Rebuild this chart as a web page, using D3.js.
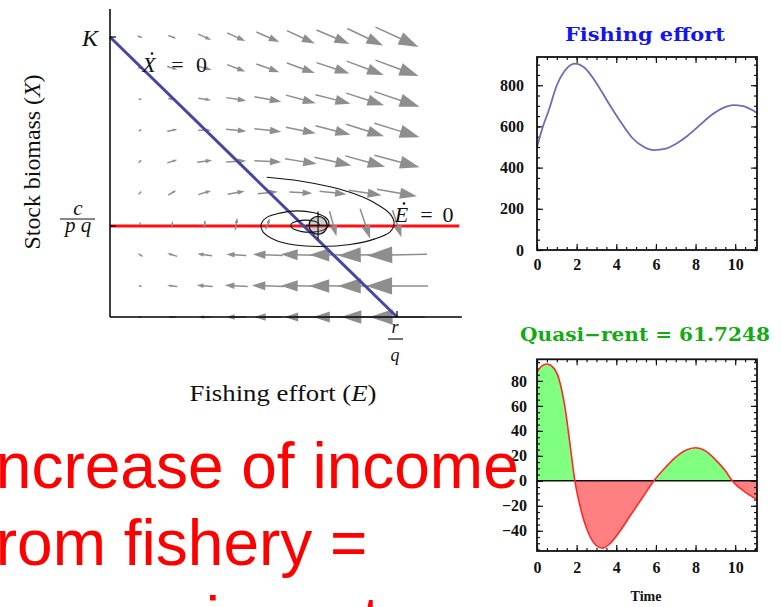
<!DOCTYPE html>
<html><head><meta charset="utf-8">
<script src="https://cdn.jsdelivr.net/npm/d3@7"></script>
<style>body{margin:0;background:#fff}svg{display:block}</style>
</head><body>
<script>
// ---------------- DATA ----------------
// Phase plane, normalised units: effort E / (r/q), biomass X / K
const gridE = [0.105, 0.217, 0.33, 0.44, 0.55, 0.665, 0.777, 0.889, 1.0];
const gridX = [1, 0.889, 0.778, 0.667, 0.556, 0.444, 0.333, 0.222, 0.111, 0];
// direction field components (percent of axis unit), rows follow gridX, cols follow gridE
const fieldDE = [
  [1.7, 2.8, 4.5, 6.3, 8.0, 9.7, 11.5, 12.5, 15.0],
  [1.4, 3.5, 4.9, 6.3, 8.0, 9.7, 11.5, 12.9, 15.0],
  [1.0, 2.8, 4.5, 7.0, 9.4, 10.4, 12.2, 13.2, 15.7],
  [1.0, 3.5, 4.5, 7.0, 9.4, 10.4, 12.2, 13.2, 15.7],
  [1.0, 3.5, 5.2, 7.0, 9.4, 11.1, 12.9, 13.9, 15.7],
  [1.0, 2.8, 4.5, 5.9, 7.0, 8.0, 9.4, 11.5, 13.9],
  [0.0, 0.2, 0.3, 0.7, 1.4, 0.2, 2.4, 3.5, 3.1],
  [-1.7, -3.5, -5.2, -7.0, -10.4, -13.9, -16.4, -19.1, -20.9],
  [-1.0, -3.5, -5.6, -8.0, -11.1, -13.9, -16.7, -19.1, -21.6],
  [-1.0, -2.8, -4.5, -7.0, -9.4, -11.5, -13.9, -16.7, -19.1]
];
const fieldDX = [
  [-0.7, -1.1, -2.1, -2.9, -3.6, -4.6, -5.0, -6.1, -7.1],
  [-0.4, -1.1, -1.4, -2.5, -2.9, -3.6, -3.9, -5.0, -5.7],
  [0.0, -0.5, -0.7, -1.1, -1.8, -2.9, -3.2, -4.3, -5.4],
  [0.7, 0.7, 0.0, -0.7, -1.1, -2.1, -3.2, -4.3, -5.0],
  [1.1, 1.1, 0.7, 0.4, -0.4, -1.8, -2.9, -3.9, -4.3],
  [1.1, 1.8, 1.4, 1.1, 0.7, -0.4, -1.1, -1.8, -2.5],
  [0.7, 1.8, 2.9, 4.3, 3.9, -0.4, -8.9, -10.7, -9.6],
  [1.1, 1.1, 0.7, 0.4, 0.4, 0.4, 0.0, -0.4, -0.4],
  [0.4, 0.4, 0.4, 0.4, 0.4, 0.2, 0.0, 0.0, 0.0],
  [0, 0, 0, 0, 0, 0, 0, 0, 0]
];
const xDotZero = [[0, 1], [1, 0]];          // (E, X) end points of the X-dot = 0 isocline
const cOverPq = 0.325;                       // E-dot = 0 isocline level
const trajectory = [
  [0.546,0.499],[0.662,0.486],[0.767,0.465],[0.854,0.439],[0.923,0.407],[0.976,0.368],
  [0.990,0.332],[0.976,0.304],[0.923,0.279],[0.836,0.259],[0.732,0.252],[0.645,0.257],
  [0.575,0.275],[0.533,0.304],[0.526,0.329],[0.544,0.354],[0.592,0.371],[0.652,0.379],
  [0.707,0.373],[0.749,0.357],[0.763,0.336],[0.749,0.314],[0.714,0.304],[0.669,0.305],
  [0.634,0.318],[0.631,0.332],[0.655,0.343],[0.697,0.345],[0.725,0.336],[0.732,0.325]
];
const equilibrium = [0.725, 0.327];

// Time series
const effortT = [0,0.3,0.6,1.0,1.4,1.9,2.4,3.0,3.6,4.2,4.8,5.4,5.9,6.5,7.0,7.6,8.2,8.8,9.4,9.9,10.4,11.1];
const effortV = [500,600,680,800,870,905,885,810,715,625,545,500,485,492,515,555,605,655,690,703,698,665];
const rentT = [0,0.25,0.5,0.8,1.1,1.4,1.7,1.9,2.2,2.6,3.0,3.3,3.7,4.2,4.7,5.3,5.9,6.5,7.0,7.5,8.0,8.5,9.0,9.5,9.9,10.5,11.1];
const rentV = [87,92,93.5,91,82,60,25,1,-22,-42,-52,-54,-50,-40,-28,-14,0,11,19,24.5,26.5,24,17,8,-1,-9,-15];
const timeTicks = [0,2,4,6,8,10];
const effortTicks = [0,200,400,600,800];
const rentTicks = [-40,-20,0,20,40,60,80];
const effortTitle = "Fishing effort";
const rentTitle = "Quasi\u2212rent = 61.7248";
const overlayLines = ["Increase of income", "from fishery =", "economic rent"];

// ---------------- DRAW ----------------
const W = 782, H = 607;
const svg = d3.select("body").append("svg").attr("width", W).attr("height", H);

// ---- phase plane ----
const xE = d3.scaleLinear().domain([0, 1]).range([110, 397]);
const yX = d3.scaleLinear().domain([0, 1]).range([317, 37]);
const xEnd = 1.226, yEnd = 1.1;
const pp = svg.append("g");

// E-dot = 0 (red)
pp.append("line").attr("x1", xE(0)).attr("x2", xE(1.217)).attr("y1", yX(cOverPq)).attr("y2", yX(cOverPq))
  .attr("stroke", "#ff1010").attr("stroke-width", 3);

// arrows
const arrowCol = "#8e8e8e";
const ag = pp.append("g");
gridX.forEach((X, i) => {
  gridE.forEach((E, j) => {
    const cx = xE(E), cy = yX(X);
    const dx = xE(E + fieldDE[i][j] / 100) - cx;
    const dy = yX(X + fieldDX[i][j] / 100) - cy;
    const L = Math.hypot(dx, dy);
    if (L < 0.3) return;
    const ux = dx / L, uy = dy / L;
    const tx = cx - dx / 2, ty = cy - dy / 2, hx = cx + dx / 2, hy = cy + dy / 2;
    const hl = 0.42 * L, hw = 0.14 * L;
    const bx = hx - ux * hl, by = hy - uy * hl;
    ag.append("line").attr("x1", tx).attr("y1", ty).attr("x2", bx + ux * 1).attr("y2", by + uy * 1)
      .attr("stroke", arrowCol).attr("stroke-width", 1.5);
    ag.append("path").attr("d", `M${hx},${hy}L${bx - uy * hw},${by + ux * hw}L${bx + uy * hw},${by - ux * hw}Z`)
      .attr("fill", arrowCol);
  });
});

// X-dot = 0 (blue)
pp.append("line").attr("x1", xE(xDotZero[0][0])).attr("y1", yX(xDotZero[0][1]))
  .attr("x2", xE(xDotZero[1][0])).attr("y2", yX(xDotZero[1][1]))
  .attr("stroke", "#4646a6").attr("stroke-width", 3);

// trajectory
pp.append("path").datum(trajectory)
  .attr("d", d3.line().x(d => xE(d[0])).y(d => yX(d[1])).curve(d3.curveCatmullRom))
  .attr("fill", "none").attr("stroke", "#111").attr("stroke-width", 1.1);

// equilibrium marker
const ex = xE(equilibrium[0]), ey = yX(equilibrium[1]);
pp.append("circle").attr("cx", ex).attr("cy", ey).attr("r", 9).attr("fill", "rgba(120,120,120,0.35)")
  .attr("stroke", "#111").attr("stroke-width", 1.3);
pp.append("line").attr("x1", ex).attr("x2", ex).attr("y1", ey - 14).attr("y2", ey + 14).attr("stroke", "#111").attr("stroke-width", 1.2);
pp.append("line").attr("x1", ex - 12).attr("x2", ex + 12).attr("y1", ey).attr("y2", ey).attr("stroke", "#111").attr("stroke-width", 1.2);

// axes
pp.append("line").attr("x1", xE(0)).attr("x2", xE(0)).attr("y1", yX(0)).attr("y2", yX(yEnd)).attr("stroke", "#000").attr("stroke-width", 1.5);
pp.append("line").attr("x1", xE(0)).attr("x2", xE(xEnd)).attr("y1", yX(0)).attr("y2", yX(0)).attr("stroke", "#000").attr("stroke-width", 1.5);
[1, cOverPq].forEach(v => pp.append("line").attr("x1", xE(0)).attr("x2", xE(0) + 6).attr("y1", yX(v)).attr("y2", yX(v)).attr("stroke", "#000").attr("stroke-width", 1.2));
pp.append("line").attr("x1", xE(1)).attr("x2", xE(1)).attr("y1", yX(0)).attr("y2", yX(0) - 6).attr("stroke", "#000").attr("stroke-width", 1.2);

const serif = "'Liberation Serif','Times New Roman',serif";
function t(g, x, y, s, size, opts = {}) {
  const el = g.append("text").attr("x", x).attr("y", y).text(s)
    .attr("font-family", serif).attr("font-size", size).attr("fill", opts.fill || "#111")
    .attr("text-anchor", opts.anchor || "middle");
  if (opts.italic) el.attr("font-style", "italic");
  if (opts.bold) el.attr("font-weight", "bold");
  if (opts.len) el.attr("textLength", opts.len).attr("lengthAdjust", "spacingAndGlyphs");
  return el;
}
// tick labels of the phase plane
t(pp, 90, 46, "K", 24, { italic: true });
t(pp, 78, 215, "c", 21, { italic: true });
pp.append("line").attr("x1", 60).attr("x2", 95).attr("y1", 219).attr("y2", 219).attr("stroke", "#111").attr("stroke-width", 1.2);
t(pp, 78, 232, "p q", 21, { italic: true });
t(pp, xE(1) - 2, 333, "r", 18, { italic: true });
pp.append("line").attr("x1", xE(1) - 9).attr("x2", xE(1) + 6).attr("y1", 339).attr("y2", 339).attr("stroke", "#111").attr("stroke-width", 1.2);
t(pp, xE(1) - 2, 361, "q", 18, { italic: true });
// isocline labels
t(pp, 149, 72, "X", 22, { italic: true });
pp.append("circle").attr("cx", 152).attr("cy", 53.5).attr("r", 1.3).attr("fill", "#111");
t(pp, 177.5, 72, "=", 22);
t(pp, 201.5, 72, "0", 22);
t(pp, 401.5, 221.5, "E", 22, { italic: true });
pp.append("circle").attr("cx", 404).attr("cy", 203.5).attr("r", 1.3).attr("fill", "#111");
t(pp, 426.5, 221.5, "=", 22);
t(pp, 448, 221.5, "0", 22);
// axis titles
const xt = t(pp, 283, 401, "", 23, { len: 187 });
xt.append("tspan").text("Fishing effort (");
xt.append("tspan").attr("font-style", "italic").text("E");
xt.append("tspan").text(")");
const yt = pp.append("text").attr("transform", "translate(40,162) rotate(-90)")
  .attr("font-family", serif).attr("font-size", 24).attr("fill", "#111").attr("text-anchor", "middle")
  .attr("textLength", 175).attr("lengthAdjust", "spacingAndGlyphs");
yt.append("tspan").text("Stock biomass (");
yt.append("tspan").attr("font-style", "italic").text("X");
yt.append("tspan").text(")");

// ---- time-series panels ----
function panel(top, bottom, yDomain, yTicks, yMinor, labelPad, xPad) {
  const g = svg.append("g");
  const x = d3.scaleLinear().domain([0, 11.1]).range([537, 757]);
  const y = d3.scaleLinear().domain(yDomain).range([bottom, top]);
  const lab = sel => sel.selectAll("text").attr("font-family", serif).attr("font-weight", "bold")
    .attr("font-size", 16).attr("fill", "#111");
  const strip = sel => { sel.select(".domain").remove(); sel.selectAll("line").attr("stroke", "#111").attr("stroke-width", 1.2); };
  const xMinor = d3.range(0, 11.1, 0.5);
  g.append("g").attr("transform", `translate(0,${bottom})`).call(d3.axisBottom(x).tickValues(timeTicks).tickSize(-6).tickPadding(xPad)).call(strip).call(lab);
  g.append("g").attr("transform", `translate(0,${bottom})`).call(d3.axisBottom(x).tickValues(xMinor).tickSize(-3).tickFormat("")).call(strip);
  g.append("g").attr("transform", `translate(0,${top})`).call(d3.axisTop(x).tickValues(timeTicks).tickSize(-6).tickFormat("")).call(strip);
  g.append("g").attr("transform", `translate(0,${top})`).call(d3.axisTop(x).tickValues(xMinor).tickSize(-3).tickFormat("")).call(strip);
  g.append("g").attr("transform", `translate(537,0)`).call(d3.axisLeft(y).tickValues(yTicks).tickSize(-6).tickPadding(labelPad)).call(strip).call(lab);
  g.append("g").attr("transform", `translate(537,0)`).call(d3.axisLeft(y).tickValues(yMinor).tickSize(-3).tickFormat("")).call(strip);
  g.append("g").attr("transform", `translate(757,0)`).call(d3.axisRight(y).tickValues(yTicks).tickSize(-6).tickFormat("")).call(strip);
  g.append("g").attr("transform", `translate(757,0)`).call(d3.axisRight(y).tickValues(yMinor).tickSize(-3).tickFormat("")).call(strip);
  return { g, x, y };
}

// Fishing effort
const p1 = panel(57, 250, [0, 937], effortTicks, d3.range(0, 937, 50), 13, 9);
const effortData = effortT.map((d, i) => [d, effortV[i]]);
p1.g.append("path").datum(effortData)
  .attr("d", d3.line().x(d => p1.x(d[0])).y(d => p1.y(d[1])).curve(d3.curveMonotoneX))
  .attr("fill", "none").attr("stroke", "#6c6cbc").attr("stroke-width", 1.8);
p1.g.append("rect").attr("x", 537).attr("y", 57).attr("width", 220).attr("height", 193)
  .attr("fill", "none").attr("stroke", "#111").attr("stroke-width", 1.8);
t(svg, 645, 41, effortTitle, 19, { bold: true, fill: "#1414f0", len: 160 }).attr("font-family", "'DejaVu Serif',serif");

// Quasi-rent
const p2 = panel(359.3, 551, [-56.2, 97.3], rentTicks, d3.range(-55, 97, 5), 10, 10.5);
const rentData = rentT.map((d, i) => [d, rentV[i]]);
const area = d3.area().x(d => p2.x(d[0])).y0(p2.y(0)).y1(d => p2.y(d[1])).curve(d3.curveMonotoneX);
const defs = svg.append("defs");
defs.append("clipPath").attr("id", "pos").append("rect").attr("x", 537).attr("y", 359.3).attr("width", 220).attr("height", p2.y(0) - 359.3);
defs.append("clipPath").attr("id", "neg").append("rect").attr("x", 537).attr("y", p2.y(0)).attr("width", 220).attr("height", 551 - p2.y(0));
p2.g.insert("path", ":first-child").datum(rentData).attr("d", area).attr("fill", "#80ff80").attr("clip-path", "url(#pos)");
p2.g.insert("path", ":first-child").datum(rentData).attr("d", area).attr("fill", "#ff8080").attr("clip-path", "url(#neg)");
p2.g.append("line").attr("x1", 537).attr("x2", 757).attr("y1", p2.y(0)).attr("y2", p2.y(0)).attr("stroke", "#111").attr("stroke-width", 1.5);
p2.g.append("path").datum(rentData)
  .attr("d", d3.line().x(d => p2.x(d[0])).y(d => p2.y(d[1])).curve(d3.curveMonotoneX))
  .attr("fill", "none").attr("stroke", "#ff2828").attr("stroke-width", 1.6);
p2.g.append("rect").attr("x", 537).attr("y", 359.3).attr("width", 220).attr("height", 191.7)
  .attr("fill", "none").attr("stroke", "#111").attr("stroke-width", 1.8);
t(svg, 645, 341, rentTitle, 19, { bold: true, fill: "#14aa14", len: 250 }).attr("font-family", "'DejaVu Serif',serif");
t(svg, 646, 601, "Time", 14, { bold: true });

// ---- red overlay text ----
overlayLines.forEach((s, i) => {
  svg.append("text").attr("x", -22).attr("y", 488 + i * 77).text(s)
    .attr("font-family", "'Liberation Sans',Arial,sans-serif").attr("font-size", 64).attr("fill", "#ff0000");
});
</script>
</body></html>
